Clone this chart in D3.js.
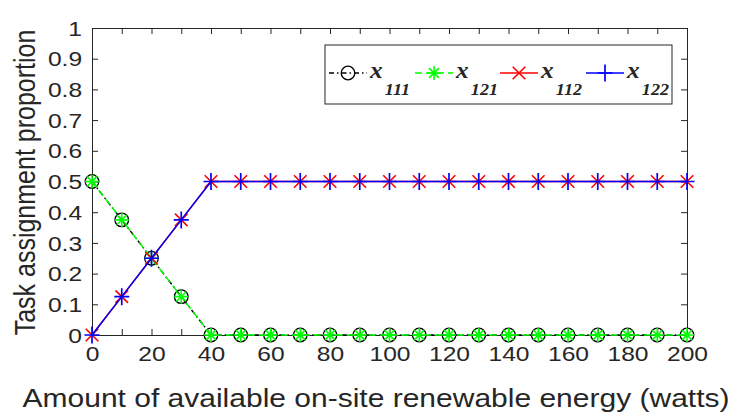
<!DOCTYPE html>
<html>
<head>
<meta charset="utf-8">
<script src="https://cdn.jsdelivr.net/npm/d3@7"></script>
<style>
  html, body { margin: 0; padding: 0; background: #fff; }
  svg { display: block; }
  text { font-family: Arial, "Liberation Sans", sans-serif; fill: #262626; }
</style>
</head>
<body>
<svg id="chart" width="729" height="418"></svg>
<script>
// Renewable energy available on site (watts)
const energy = [0,10,20,30,40,50,60,70,80,90,100,110,120,130,140,150,160,170,180,190,200];
// Task assignment proportions
const x111 = [0.5,0.375,0.25,0.125,0,0,0,0,0,0,0,0,0,0,0,0,0,0,0,0,0];
const x121 = [0.5,0.375,0.25,0.125,0,0,0,0,0,0,0,0,0,0,0,0,0,0,0,0,0];
const x112 = [0,0.125,0.25,0.375,0.5,0.5,0.5,0.5,0.5,0.5,0.5,0.5,0.5,0.5,0.5,0.5,0.5,0.5,0.5,0.5,0.5];
const x122 = [0,0.125,0.25,0.375,0.5,0.5,0.5,0.5,0.5,0.5,0.5,0.5,0.5,0.5,0.5,0.5,0.5,0.5,0.5,0.5,0.5];
const xTicks = [0,20,40,60,80,100,120,140,160,180,200];
const yTicks = [0,0.1,0.2,0.3,0.4,0.5,0.6,0.7,0.8,0.9,1];
const seriesNames = ["111","121","112","122"];

const svg = d3.select("#chart");
const L = 92, R = 687, T = 28, B = 335;
const x = d3.scaleLinear().domain([0,200]).range([L,R]);
const y = d3.scaleLinear().domain([0,1]).range([B,T]);

// Text in this figure is set slightly wide
const WIDE = 1.2;

// Axes box with inward ticks on all four sides
const axisColor = "#262626";
function styleAxis(g) {
  g.select(".domain").attr("stroke", axisColor);
  g.selectAll(".tick line").attr("stroke", axisColor);
  g.selectAll(".tick text").attr("font-size", 20.5).attr("fill", "#262626")
    .style("font-family", "Arial, 'Liberation Sans', sans-serif")
    .attr("transform", `scale(${WIDE},1)`);
}
const tickFmt = d => d3.format("~g")(d);
svg.append("g").attr("transform", `translate(0,${B})`)
  .call(d3.axisBottom(x).tickValues(d3.range(0,201,10)).tickSizeInner(-6).tickSizeOuter(0).tickPadding(11)
    .tickFormat(d => xTicks.includes(d) ? tickFmt(d) : ""))
  .call(styleAxis)
  .selectAll(".tick text").attr("dy", "0.71em");
svg.append("g").attr("transform", `translate(0,${T})`)
  .call(d3.axisTop(x).tickValues(d3.range(0,201,10)).tickSizeInner(-6).tickSizeOuter(0).tickFormat(""))
  .call(styleAxis);
svg.append("g").attr("transform", `translate(${L},0)`)
  .call(d3.axisLeft(y).tickValues(yTicks).tickSizeInner(-6).tickSizeOuter(0).tickFormat(tickFmt))
  .call(styleAxis)
  .selectAll(".tick text").attr("x", -8.3).attr("dy", "0.35em");
svg.append("g").attr("transform", `translate(${R},0)`)
  .call(d3.axisRight(y).tickValues(yTicks).tickSizeInner(-6).tickSizeOuter(0).tickFormat(""))
  .call(styleAxis);

// Axis titles
svg.append("text").attr("transform", `translate(376,407) scale(${WIDE},1)`)
  .attr("text-anchor", "middle").attr("font-size", 25)
  .text("Amount of available on-site renewable energy (watts)");
svg.append("text").attr("transform", `translate(35,${(T+B)/2 + 1}) rotate(-90) scale(1,${WIDE})`)
  .attr("text-anchor", "middle").attr("font-size", 25).text("Task assignment proportion");

// Marker symbols
function marker(g, kind, color, cx, cy) {
  if (kind === "circle") {
    g.append("circle").attr("cx", cx).attr("cy", cy).attr("r", 6.8)
      .attr("fill", "none").attr("stroke", color).attr("stroke-width", 1.3);
  } else if (kind === "star") {
    const s = 7, d = s * 0.7;
    const p = `M${cx-s},${cy}H${cx+s}M${cx},${cy-s}V${cy+s}M${cx-d},${cy-d}L${cx+d},${cy+d}M${cx-d},${cy+d}L${cx+d},${cy-d}`;
    g.append("path").attr("d", p).attr("stroke", color).attr("stroke-width", 1.6).attr("fill", "none");
  } else if (kind === "cross") {
    const d = 6.3;
    const p = `M${cx-d},${cy-d}L${cx+d},${cy+d}M${cx-d},${cy+d}L${cx+d},${cy-d}`;
    g.append("path").attr("d", p).attr("stroke", color).attr("stroke-width", 1.6).attr("fill", "none");
  } else if (kind === "plus") {
    const dx = 7.5, dy = 8.5;
    const p = `M${cx-dx},${cy}H${cx+dx}M${cx},${cy-dy}V${cy+dy}`;
    g.append("path").attr("d", p).attr("stroke", color).attr("stroke-width", 1.7).attr("fill", "none");
  }
}

const series = [
  { name: seriesNames[0], values: x111, color: "#000000", dash: "5,3,1.5,3", kind: "circle" },
  { name: seriesNames[1], values: x121, color: "#00ff00", dash: "7,4", kind: "star" },
  { name: seriesNames[2], values: x112, color: "#ff0000", dash: null, kind: "cross" },
  { name: seriesNames[3], values: x122, color: "#0000ff", dash: null, kind: "plus" }
];

const line = d3.line().x((d,i) => x(energy[i])).y(d => y(d));
series.forEach(s => {
  const g = svg.append("g");
  g.append("path").datum(s.values).attr("d", line).attr("fill", "none")
    .attr("stroke", s.color).attr("stroke-width", 1.5)
    .attr("stroke-dasharray", s.dash);
  s.values.forEach((v,i) => marker(g, s.kind, s.color, x(energy[i]), y(v)));
});

// Legend
const lg = svg.append("g");
lg.append("rect").attr("x", 325).attr("y", 45).attr("width", 347).attr("height", 59)
  .attr("fill", "#fff").attr("stroke", "#262626").attr("stroke-width", 1);
const legX = [329, 415, 500, 586];
series.forEach((s, k) => {
  const x0 = legX[k], yl = 73;
  lg.append("line").attr("x1", x0).attr("x2", x0 + 38).attr("y1", yl).attr("y2", yl)
    .attr("stroke", s.color).attr("stroke-width", 1.5).attr("stroke-dasharray", s.dash);
  marker(lg, s.kind, s.color, x0 + 19, yl);
  const t = lg.append("text").attr("transform", `translate(${x0 + 41},${yl + 5}) scale(1.1,1)`)
    .style("font-family", "'Liberation Serif', 'Times New Roman', serif")
    .attr("font-style", "italic").attr("font-weight", "bold").attr("fill", "#000");
  t.append("tspan").attr("font-size", 23).text("x");
  t.append("tspan").attr("font-size", 16.5).attr("dx", 2).attr("dy", 17).text(s.name);
});
</script>
</body>
</html>
